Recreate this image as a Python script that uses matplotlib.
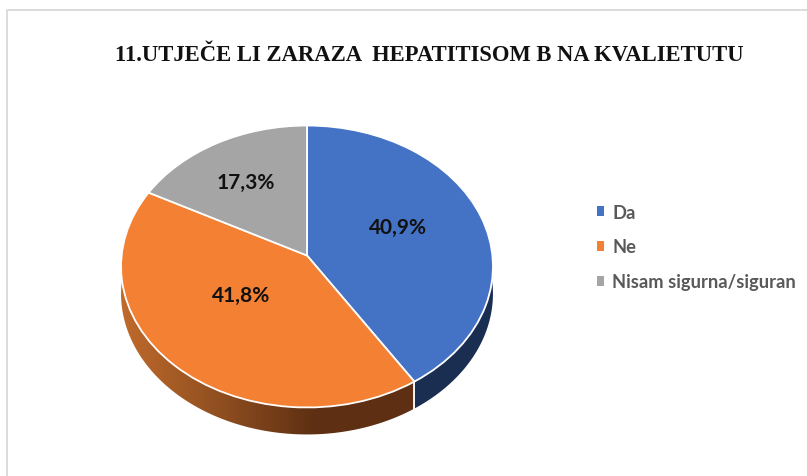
import numpy as np
import matplotlib
matplotlib.use('agg')
import matplotlib.pyplot as plt
import matplotlib.transforms as mtransforms
from matplotlib.colors import LinearSegmentedColormap
from matplotlib.patches import Polygon, Patch

title = '11.UTJEČE LI ZARAZA  HEPATITISOM B NA KVALIETUTU'
labels = ['Da', 'Ne', 'Nisam sigurna/siguran']
values = [40.9, 41.8, 17.3]
colors = ['#4472c4', '#f38033', '#a5a5a5']
label_pos = [(398, 228), (241, 296), (246, 183)]

# tilted pie: apex of the slices and the ellipse centre are not the same point
CX, CY = 307, 256.5
A, B, K = 185.4, 140.1, 0.078
DEPTH = 27


class Tilt(mtransforms.Transform):
    input_dims = 2
    output_dims = 2

    def transform_non_affine(self, xy):
        xy = np.asarray(xy)
        w = 1 + K * xy[:, 1]
        return np.column_stack([CX + A * xy[:, 0] / w, CY - B * xy[:, 1] / w])


tilt = Tilt()


def rim(t1, t2):
    t = np.radians(np.linspace(t1, t2, 150))
    return tilt.transform_non_affine(np.column_stack([np.cos(t), np.sin(t)]))


def side(t1, t2):
    top = rim(t1, t2)
    return np.vstack([top, (top + [0, DEPTH])[::-1]])


fig = plt.figure(figsize=(8.07, 4.77), dpi=100)
ax = fig.add_axes([0, 0, 1, 1])

wedges, _, autotexts = ax.pie(values, colors=colors, startangle=90, counterclock=False,
                              autopct=lambda p: f'{p:.1f}%'.replace('.', ','),
                              wedgeprops={'edgecolor': 'white', 'linewidth': 1.3},
                              textprops={'family': 'Lato', 'weight': 'bold', 'fontsize': 15, 'color': '#111111'})
for w in wedges:
    w.set_transform(tilt + ax.transData)
    w.set_zorder(3)
for t, pos in zip(autotexts, label_pos):
    t.set_position(pos)
    t.set_zorder(4)

split = 90 - values[0] * 3.6

# side walls
blue_side = Polygon(side(3, split), closed=True, facecolor='#1a2e52', edgecolor='none', zorder=2)
ax.add_patch(blue_side)
orange_side = Polygon(side(split, -183), closed=True, facecolor='none', edgecolor='none', zorder=2)
ax.add_patch(orange_side)
cmap = LinearSegmentedColormap.from_list('wall', ['#c06a2c', '#8f4f20', '#5e2f12', '#5e2f12'])
im = ax.imshow(np.linspace(0, 1, 256).reshape(1, -1), cmap=cmap, aspect='auto',
               extent=[121, 414, 440, 250], zorder=2)
im.set_clip_path(orange_side)
sx, sy = rim(split, split)[0]
ax.plot([sx, sx], [sy, sy + DEPTH], color='white', lw=1.3, zorder=3)

# sheet border
ax.plot([6.5, 6.5, 807], [477, 11, 11], color='#d9d9d9', lw=1.3, zorder=1)

ax.set_xlim(0, 807)
ax.set_ylim(477, 0)
ax.set_aspect('auto')
ax.axis('off')

ax.text(429, 55.5, title, family='Liberation Serif', weight='bold', fontsize=16.25,
        color='#111111', ha='center', va='center')

handles = [Patch(facecolor=c, edgecolor='none') for c in colors]
fig.legend(handles, labels, loc='center left', bbox_to_anchor=(597 / 807, 1 - 248 / 477), frameon=False,
           prop={'family': 'Lato', 'weight': 'bold', 'size': 13.2}, labelcolor='#595959',
           handlelength=0.4, handleheight=0.4, handletextpad=0.42, labelspacing=0.98, borderpad=0, borderaxespad=0)

fig.savefig('out.png', dpi=100)
